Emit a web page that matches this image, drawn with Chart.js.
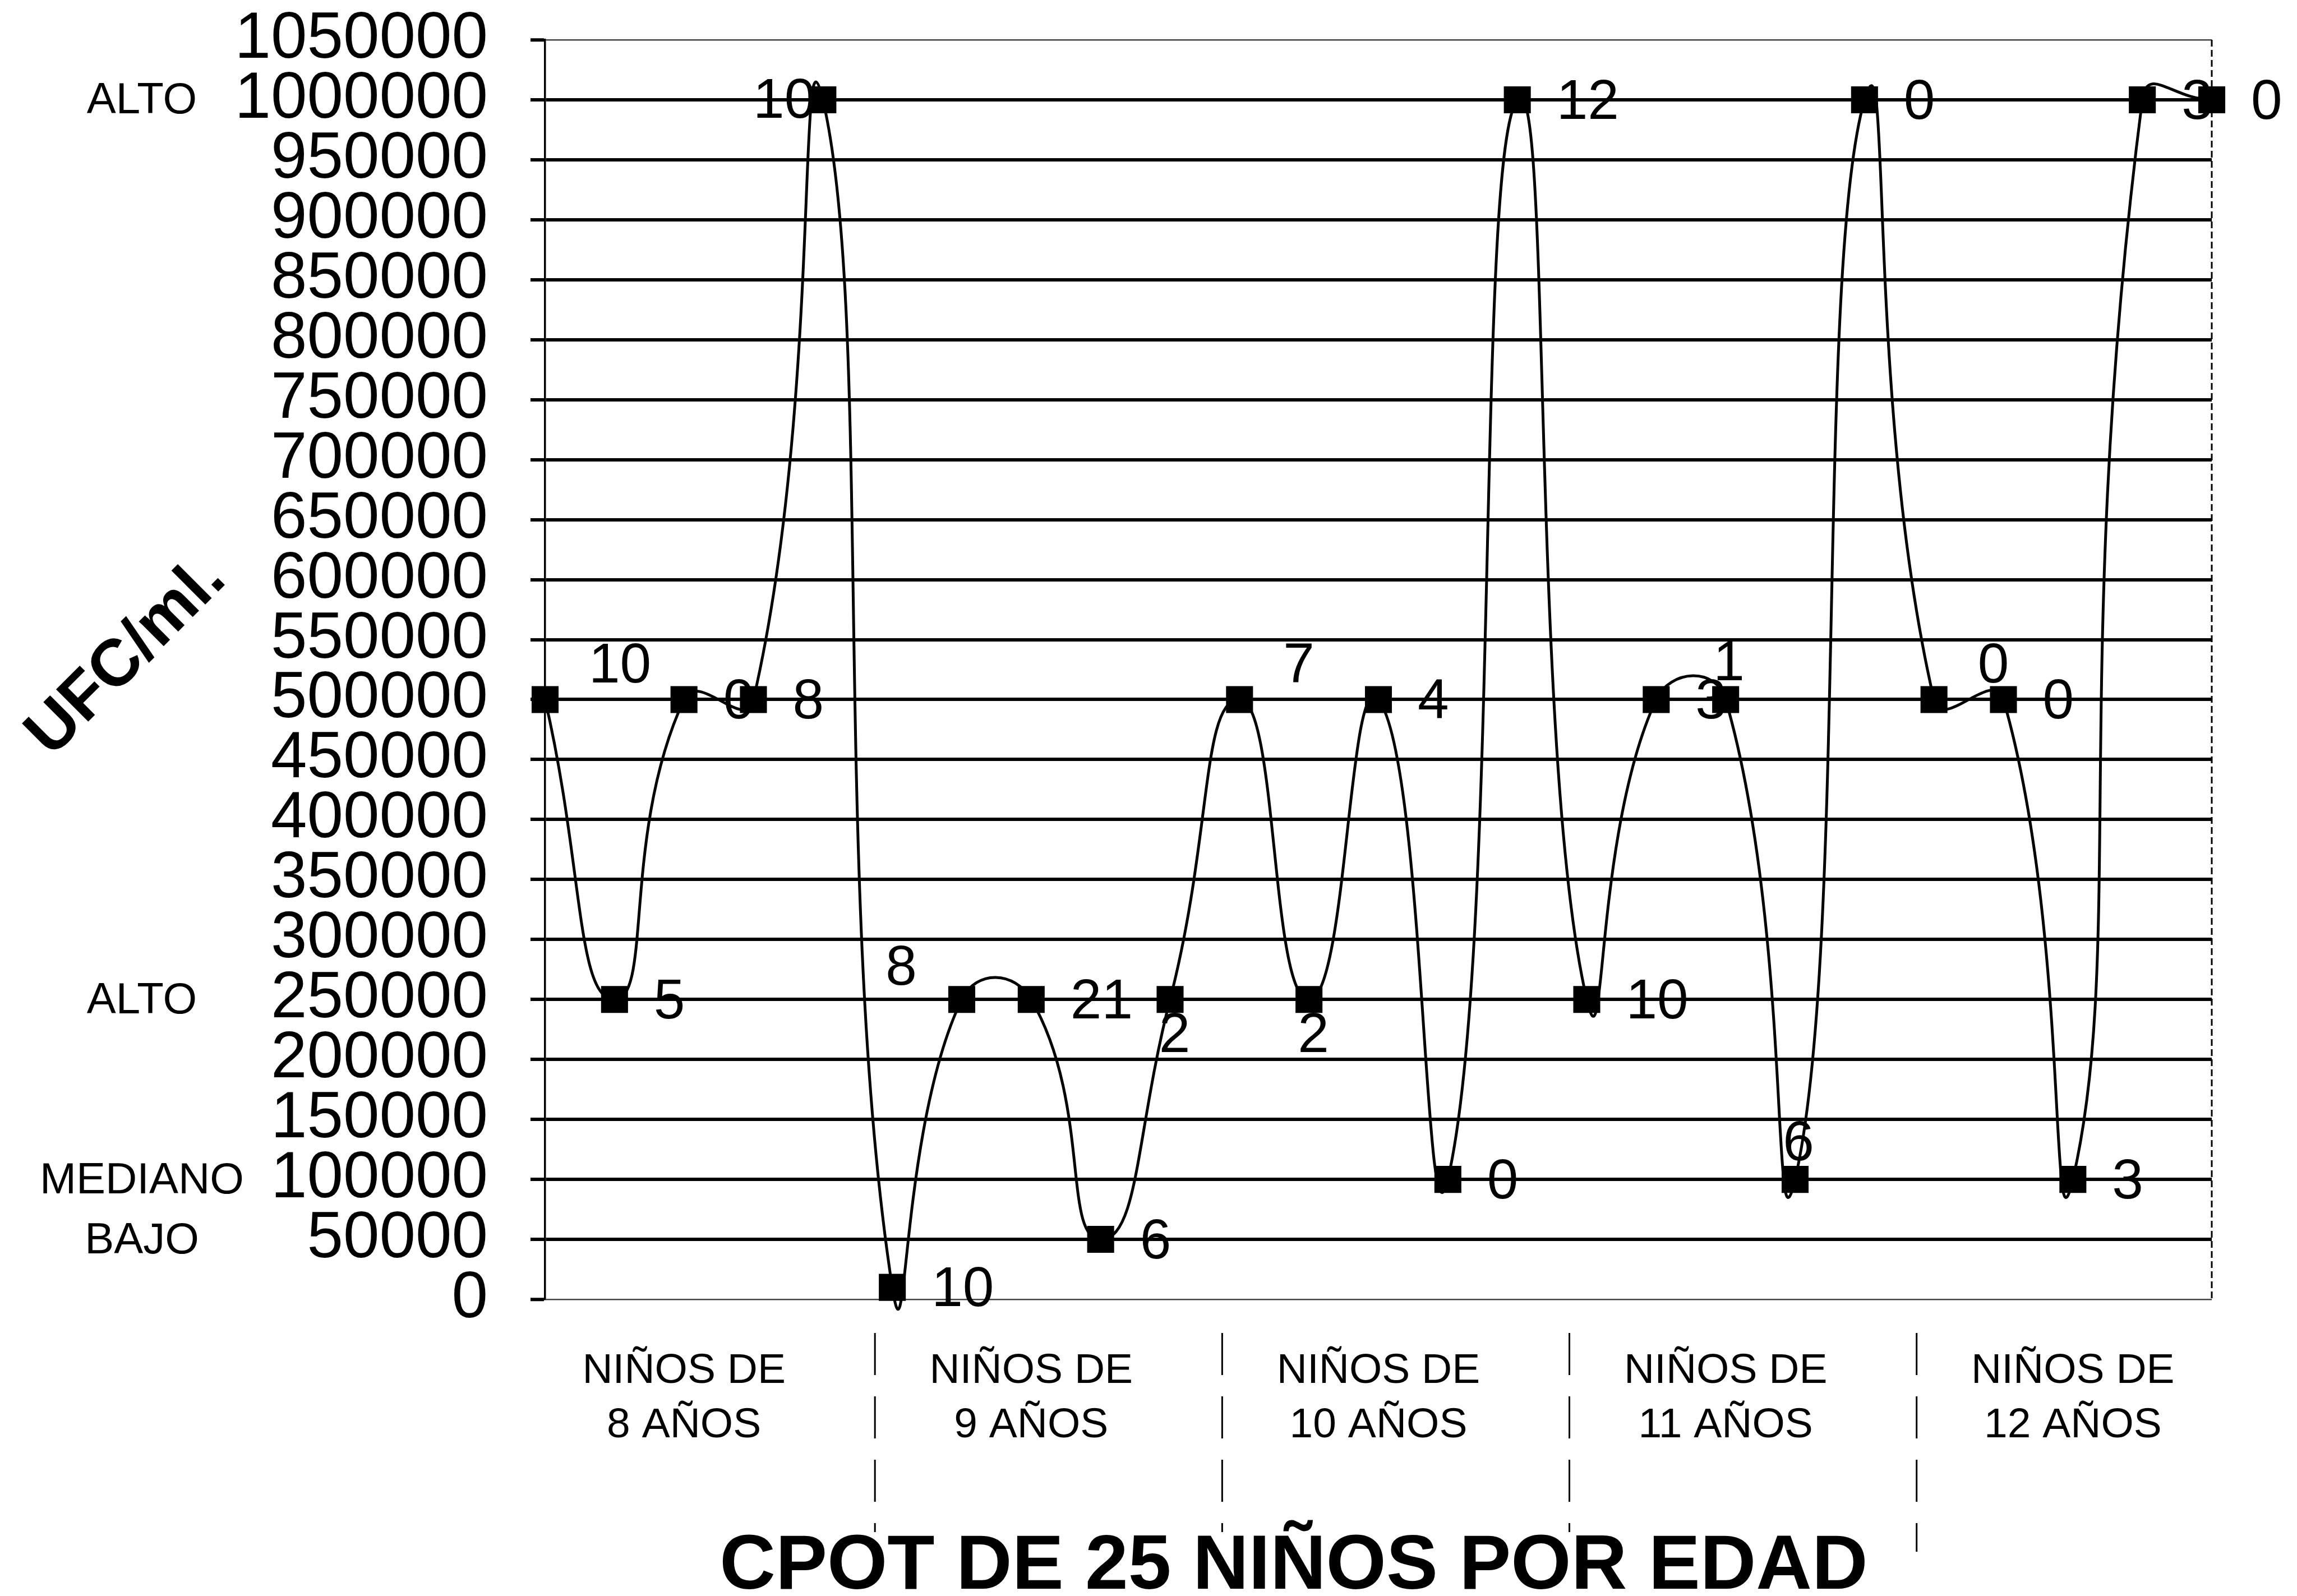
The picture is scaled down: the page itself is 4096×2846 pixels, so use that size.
<!DOCTYPE html>
<html>
<head>
<meta charset="utf-8">
<script src="https://cdn.jsdelivr.net/npm/chart.js@4.4.0/dist/chart.umd.min.js"></script>
<style>
  html, body { margin: 0; padding: 0; background: #fff; overflow: hidden; }
  canvas { display: block; }
</style>
</head>
<body>
<canvas id="cpot" width="4096" height="2846"></canvas>
<script>
const fontFamily = "'Liberation Sans', Arial, sans-serif";

// 25 niños, 5 per age group
const ninoLabels = ['1', '2', '3', '4', '5', '6', '7', '8', '9', '10', '11', '12', '13',
  '14', '15', '16', '17', '18', '19', '20', '21', '22', '23', '24', '25'];
const ufcValues = [500000, 250000, 500000, 500000, 1000000,
  10000, 250000, 250000, 50000, 250000,
  500000, 250000, 500000, 100000, 1000000,
  250000, 500000, 500000, 100000, 1000000,
  500000, 500000, 100000, 1000000, 1000000];
const pointCounts = [10, 5, 0, 8, 10,
  10, 8, 21, 6, 2,
  7, 2, 4, 0, 12,
  10, 3, 1, 6, 0,
  0, 0, 3, 3, 0];
// where each count sits next to its point
const countPlacement = ['ar', 'r', 'r', 'r', 'l',
  'r', 'al', 'r', 'r', 'b',
  'ar', 'b', 'r', 'r', 'r',
  'r', 'r', 'a', 'a', 'r',
  'ar', 'r', 'r', 'r', 'r'];
const groupNames = [['NIÑOS DE', '8 AÑOS'], ['NIÑOS DE', '9 AÑOS'], ['NIÑOS DE', '10 AÑOS'],
  ['NIÑOS DE', '11 AÑOS'], ['NIÑOS DE', '12 AÑOS']];
const levelValues = [1000000, 250000, 100000, 50000];
const levelNames = ['ALTO', 'ALTO', 'MEDIANO', 'BAJO'];
const yMax = 1050000;
const yStep = 50000;
const chartTitle = 'CPOT DE 25 NIÑOS POR EDAD';
const yTitle = 'UFC/ml.';

const placeStyle = {
  r: { align: 'left', dx: 70, dy: 6 },
  l: { align: 'right', dx: -13, dy: 4 },
  a: { align: 'center', dx: 6, dy: -62 },
  b: { align: 'center', dx: 8, dy: 66 },
  ar: { align: 'left', dx: 78, dy: -58 },
  al: { align: 'center', dx: -108, dy: -54 }
};

const extras = {
  id: 'extras',
  afterDatasetsDraw(chart) {
    const ctx = chart.ctx;
    const area = chart.chartArea;
    const xs = chart.scales.x;
    ctx.save();
    ctx.strokeStyle = '#000';
    // dashed right frame
    ctx.lineWidth = 3;
    ctx.setLineDash([12, 6]);
    ctx.beginPath();
    ctx.moveTo(area.right, area.top);
    ctx.lineTo(area.right, area.bottom);
    ctx.stroke();
    // group separators under the axis
    ctx.setLineDash([75, 38]);
    for (let g = 1; g < groupNames.length; g++) {
      const px = xs.getPixelForValue(g * 5 - 0.25);
      ctx.beginPath();
      ctx.moveTo(px, area.bottom + 60);
      ctx.lineTo(px, area.bottom + (g === 4 ? 450 : 415));
      ctx.stroke();
    }
    ctx.setLineDash([]);
    // point counts
    const meta = chart.getDatasetMeta(0);
    ctx.fillStyle = '#000';
    ctx.font = '100px ' + fontFamily;
    ctx.textBaseline = 'middle';
    meta.data.forEach((pt, i) => {
      const p = placeStyle[countPlacement[i]];
      ctx.textAlign = p.align;
      ctx.fillText(String(pointCounts[i]), pt.x + p.dx, pt.y + p.dy);
    });
    ctx.restore();
  },
  afterDraw(chart) {
    const ctx = chart.ctx;
    const ys = chart.scales.y;
    ctx.save();
    ctx.fillStyle = '#000';
    // level names beside the value axis
    ctx.font = '78px ' + fontFamily;
    ctx.textAlign = 'center';
    ctx.textBaseline = 'middle';
    levelValues.forEach((v, i) => {
      ctx.fillText(levelNames[i], 253, ys.getPixelForValue(v) + 3);
    });
    // bottom title
    ctx.font = 'bold 138px ' + fontFamily;
    ctx.textBaseline = 'alphabetic';
    ctx.fillText(chartTitle, 2307, 2833);
    // slanted value axis title
    ctx.translate(226, 1172);
    ctx.rotate(-Math.PI / 4);
    ctx.font = 'bold 118px ' + fontFamily;
    ctx.textBaseline = 'middle';
    ctx.fillText(yTitle, 0, 0);
    ctx.restore();
  }
};

const isFrame = v => v === 0 || v === yMax;

new Chart(document.getElementById('cpot'), {
  type: 'line',
  data: {
    labels: ninoLabels,
    datasets: [{
      data: ufcValues,
      borderColor: '#000',
      borderWidth: 5,
      tension: 0.55,
      pointStyle: 'rect',
      pointRadius: 34,
      pointBackgroundColor: '#000',
      pointBorderWidth: 0,
      clip: false
    }]
  },
  options: {
    responsive: false,
    animation: false,
    devicePixelRatio: 1,
    layout: { padding: { left: 0, right: 152, top: 71, bottom: 0 } },
    elements: { line: { capBezierPoints: false } },
    plugins: {
      legend: { display: false },
      tooltip: { enabled: false },
      title: { display: false }
    },
    scales: {
      x: {
        type: 'category',
        offset: false,
        grid: { display: false, drawTicks: false },
        border: { display: false },
        ticks: {
          autoSkip: false,
          maxRotation: 0,
          minRotation: 0,
          padding: 80,
          color: '#000',
          font: { family: fontFamily, size: 75, lineHeight: 1.29 },
          callback: (v, i) => (i % 5 === 2 ? groupNames[Math.floor(i / 5)] : '')
        },
        afterFit: s => { s.height = 529; s.paddingLeft = 0; s.paddingRight = 0; }
      },
      y: {
        type: 'linear',
        position: 'left',
        min: 0,
        max: yMax,
        grid: {
          color: c => (isFrame(c.tick.value) ? '#444' : '#000'),
          lineWidth: c => (isFrame(c.tick.value) ? 2.5 : 6),
          tickColor: '#000',
          tickWidth: 6,
          tickLength: 26,
          drawTicks: true
        },
        border: { display: true, color: '#000', width: 3.5 },
        ticks: {
          stepSize: yStep,
          autoSkip: false,
          padding: 76,
          color: '#000',
          font: { family: fontFamily, size: 116, lineHeight: 1 },
          callback: v => String(v)
        },
        afterFit: s => { s.width = 972; s.paddingTop = 0; s.paddingBottom = 0; }
      }
    }
  },
  plugins: [extras]
});
</script>
</body>
</html>
